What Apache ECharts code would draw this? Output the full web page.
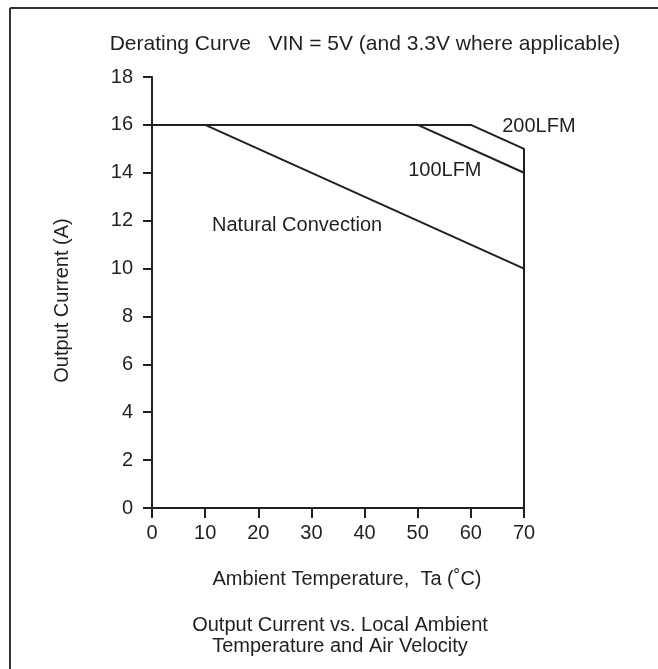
<!DOCTYPE html>
<html>
<head>
<meta charset="utf-8">
<script src="https://cdn.jsdelivr.net/npm/echarts@6/dist/echarts.min.js"></script>
<style>
  html, body { margin: 0; padding: 0; background: #fff; }
  #chart { width: 658px; height: 669px; }
</style>
</head>
<body>
<div id="chart"></div>
<script>
// curve points [Ta (°C), current (A)]
let natural = [[0, 16], [10, 16], [70, 10]];
let lfm100 = [[50, 16], [70, 14]];
let lfm200 = [[0, 16], [60, 16], [70, 15], [70, 0]];

// curve labels, left edge at [x, y]
let curveLabels = [
  { name: "200LFM", value: [65.9, 15.95] },
  { name: "100LFM", value: [48.2, 14.1] },
  { name: "Natural Convection", value: [11.3, 11.8] },
];

let xTicks = [0, 10, 20, 30, 40, 50, 60, 70];
let yTicks = [0, 2, 4, 6, 8, 10, 12, 14, 16, 18];

let ink = "#231f20";
let font = "Liberation Sans, Arial, Helvetica, sans-serif";
let fs = 20;

let myChart = echarts.init(document.getElementById("chart"));

function lineSeries(data) {
  return {
    type: "line",
    data: data,
    symbol: "none",
    silent: true,
    lineStyle: { color: ink, width: 2 },
  };
}

let option = {
  animation: false,
  textStyle: { fontFamily: font, color: ink },
  title: {
    text: "Derating Curve   VIN = 5V (and 3.3V where applicable)",
    left: 360,
    textAlign: "center",
    top: 29,
    textStyle: { fontSize: 21, fontWeight: "normal", color: ink, fontFamily: font },
  },
  grid: { left: 152, right: 134, top: 77, bottom: 161 },
  xAxis: {
    type: "value",
    min: xTicks[0],
    max: xTicks[xTicks.length - 1],
    interval: 10,
    name: "Ambient Temperature,  Ta (˚C)",
    nameLocation: "middle",
    nameGap: 61,
    nameTextStyle: { fontSize: fs, color: ink, fontFamily: font, padding: [0, 0, 0, 18] },
    axisLine: { lineStyle: { color: ink, width: 2 } },
    axisTick: { length: 10, lineStyle: { color: ink, width: 2 } },
    axisLabel: { fontSize: fs, color: ink, margin: 15, fontFamily: font },
    splitLine: { show: false },
  },
  yAxis: {
    type: "value",
    min: yTicks[0],
    max: yTicks[yTicks.length - 1],
    interval: 2,
    name: "Output Current (A)",
    nameLocation: "middle",
    nameGap: 80,
    nameTextStyle: { fontSize: fs, color: ink, fontFamily: font, padding: [0, 16, 0, 0] },
    axisLine: { show: true, lineStyle: { color: ink, width: 2 } },
    axisTick: { show: true, length: 9, lineStyle: { color: ink, width: 2 } },
    axisLabel: { fontSize: fs, color: ink, margin: 19, fontFamily: font },
    splitLine: { show: false },
  },
  graphic: [
    // frame, left and top edges
    { type: "line", shape: { x1: 10, y1: 8, x2: 658, y2: 8 }, style: { stroke: "#333", lineWidth: 2 } },
    { type: "line", shape: { x1: 10, y1: 8, x2: 10, y2: 669 }, style: { stroke: "#333", lineWidth: 2 } },
    {
      type: "text",
      x: 340,
      y: 615,
      style: {
        text: "Output Current vs. Local Ambient\nTemperature and Air Velocity",
        textAlign: "center",
        fontSize: fs,
        lineHeight: 21,
        fill: ink,
        fontFamily: font,
      },
    },
  ],
  series: [
    lineSeries(lfm200),
    lineSeries(lfm100),
    lineSeries(natural),
    {
      type: "scatter",
      data: curveLabels,
      symbolSize: 0,
      silent: true,
      itemStyle: { opacity: 1 },
      label: {
        show: true,
        position: "right",
        distance: 0,
        formatter: "{b}",
        fontSize: fs,
        color: ink,
        opacity: 1,
        textBorderWidth: 0,
        fontFamily: font,
      },
    },
  ],
};

myChart.setOption(option);
</script>
</body>
</html>
